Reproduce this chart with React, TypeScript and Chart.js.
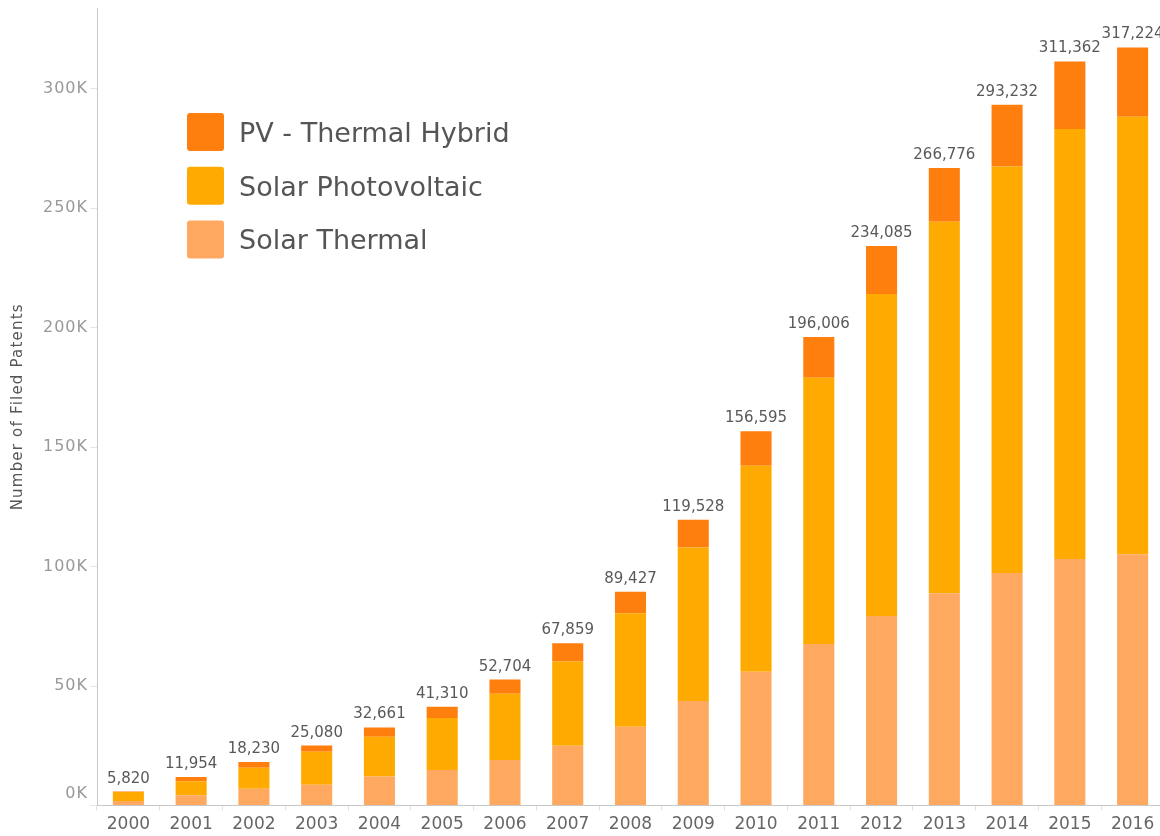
import React, { useEffect, useRef } from "react";
import { Chart, registerables } from "chart.js";

Chart.register(...registerables);

const years = [
  "2000", "2001", "2002", "2003", "2004", "2005", "2006", "2007", "2008",
  "2009", "2010", "2011", "2012", "2013", "2014", "2015", "2016",
];
const solarThermal = [
  1900, 4300, 7000, 8700, 12100, 14900, 19000, 25000, 33000,
  43700, 56000, 67600, 79300, 88800, 97300, 103100, 105100,
];
const solarPhotovoltaic = [
  3700, 5800, 8800, 13800, 16700, 21700, 27800, 35300, 47400,
  64300, 86200, 111400, 134700, 155500, 170100, 180000, 183100,
];
const pvThermalHybrid = [
  220, 1854, 2430, 2580, 3861, 4710, 5904, 7559, 9027,
  11528, 14395, 17006, 20085, 22476, 25832, 28262, 29024,
];
const totalLabels = [
  5820, 11954, 18230, 25080, 32661, 41310, 52704, 67859, 89427,
  119528, 156595, 196006, 234085, 266776, 293232, 311362, 317224,
];
const yTickValues = [0, 50000, 100000, 150000, 200000, 250000, 300000];
const yTickLabels = ["0K", "50K", "100K", "150K", "200K", "250K", "300K"];
const yAxisTitle = "Number of Filed Patents";
const legendNames = ["PV - Thermal Hybrid", "Solar Photovoltaic", "Solar Thermal"];

const COLOR_HYBRID = "#ff7f0e";
const COLOR_PV = "#ffaa00";
const COLOR_THERMAL = "#ffa860";
const FONT = "'DejaVu Sans', sans-serif";

const overlayPlugin = {
  id: "overlay",
  afterDatasetsDraw(chart: any) {
    const ctx = chart.ctx;
    const xs = chart.scales.x;
    const ys = chart.scales.y;
    const meta = chart.getDatasetMeta(2);
    const band = xs.getPixelForValue(1) - xs.getPixelForValue(0);
    ctx.save();
    ctx.font = `15px ${FONT}`;
    ctx.fillStyle = "#595959";
    ctx.textAlign = "center";
    ctx.textBaseline = "alphabetic";
    totalLabels.forEach((t, i) => {
      const bar = meta.data[i];
      const sum = solarThermal[i] + solarPhotovoltaic[i] + pvThermalHybrid[i];
      const y = ys.getPixelForValue(sum) - 9;
      ctx.save();
      ctx.beginPath();
      ctx.rect(bar.x - band / 2, 0, band, chart.height);
      ctx.clip();
      ctx.fillText(t.toLocaleString("en-US"), bar.x, y);
      ctx.restore();
    });
    ctx.restore();
  },
  afterDraw(chart: any) {
    const ctx = chart.ctx;
    const ys = chart.scales.y;
    const area = chart.chartArea;
    ctx.save();
    // y tick labels
    ctx.font = `16px ${FONT}`;
    (ctx as any).letterSpacing = "1px";
    ctx.fillStyle = "#999999";
    ctx.textAlign = "right";
    ctx.textBaseline = "middle";
    yTickValues.forEach((v, i) => {
      let y = ys.getPixelForValue(v);
      if (v === 0) y -= 12;
      ctx.fillText(yTickLabels[i], area.left - 9, y);
    });
    // y title
    ctx.save();
    ctx.font = `15px ${FONT}`;
    (ctx as any).letterSpacing = "1.2px";
    ctx.fillStyle = "#555555";
    ctx.textAlign = "center";
    ctx.textBaseline = "middle";
    ctx.translate(18, (area.top + area.bottom) / 2);
    ctx.rotate(-Math.PI / 2);
    ctx.fillText(yAxisTitle, 0, 0);
    ctx.restore();
    // legend
    (ctx as any).letterSpacing = "0px";
    const colors = [COLOR_HYBRID, COLOR_PV, COLOR_THERMAL];
    const sx = 187;
    const sy0 = 113;
    const gap = 53.7;
    ctx.font = `27px ${FONT}`;
    ctx.textAlign = "left";
    ctx.textBaseline = "alphabetic";
    legendNames.forEach((name, i) => {
      const y = sy0 + i * gap;
      ctx.fillStyle = colors[i];
      ctx.beginPath();
      (ctx as any).roundRect(sx, y, 37, 38, 3);
      ctx.fill();
      ctx.fillStyle = "#555555";
      ctx.fillText(name, 239, y + 19 + 10);
    });
    ctx.restore();
  },
};

export default function App() {
  const ref = useRef<HTMLCanvasElement | null>(null);
  useEffect(() => {
    if (!ref.current) return;
    const chart = new Chart(ref.current, {
      type: "bar",
      data: {
        labels: years,
        datasets: [
          { label: legendNames[2], data: solarThermal, backgroundColor: COLOR_THERMAL, borderWidth: 0 },
          { label: legendNames[1], data: solarPhotovoltaic, backgroundColor: COLOR_PV, borderWidth: 0 },
          { label: legendNames[0], data: pvThermalHybrid, backgroundColor: COLOR_HYBRID, borderWidth: 0 },
        ],
      },
      options: {
        responsive: false,
        animation: false,
        layout: { padding: { top: 8, left: 0, right: 0, bottom: 0 } },
        datasets: { bar: { barPercentage: 0.495, categoryPercentage: 1 } },
        plugins: { legend: { display: false }, tooltip: { enabled: false } },
        scales: {
          x: {
            stacked: true,
            grid: {
              display: true,
              offset: true,
              drawOnChartArea: false,
              drawTicks: true,
              tickLength: 5,
              color: "#e0e0e0",
            },
            border: { display: true, color: "#c8c8c8", width: 1 },
            ticks: {
              font: { family: FONT, size: 17 },
              color: "#666666",
              padding: 4,
              maxRotation: 0,
              autoSkip: false,
            },
            afterFit: (s: any) => {
              s.height = 30.5;
            },
          },
          y: {
            stacked: true,
            min: 0,
            max: 333700,
            grid: {
              display: true,
              drawOnChartArea: false,
              drawTicks: true,
              tickLength: 7,
              color: "#e6e6e6",
            },
            border: { display: true, color: "#c8c8c8", width: 1 },
            ticks: { display: false },
            afterBuildTicks: (s: any) => {
              s.ticks = yTickValues.map((v) => ({ value: v }));
            },
            afterFit: (s: any) => {
              s.width = 97;
            },
          },
        },
      },
      plugins: [overlayPlugin],
    });
    return () => chart.destroy();
  }, []);
  return (
    <div
      style={{
        position: "fixed",
        left: 0,
        top: 0,
        width: 1160,
        height: 836,
        overflow: "hidden",
        background: "#ffffff",
      }}
    >
      <canvas ref={ref} width={1164} height={836} style={{ display: "block" }} />
    </div>
  );
}
